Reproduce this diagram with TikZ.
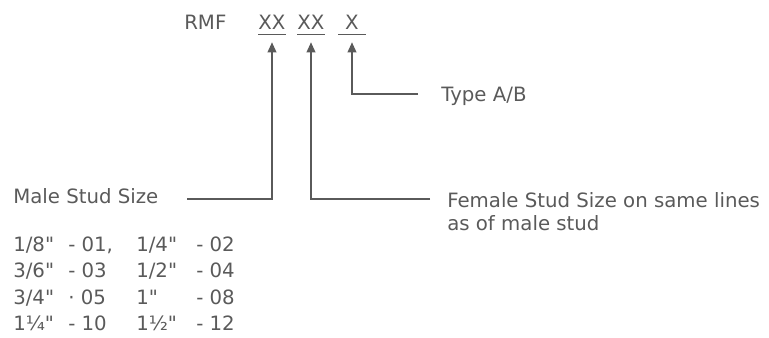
\documentclass[tikz,border=0pt]{standalone}
\usepackage{fontspec}
\setmainfont{DejaVu Sans}[Ligatures=TeXOff]
\usetikzlibrary{arrows.meta}
\definecolor{ink}{HTML}{5A5A5A}
\begin{document}
\begin{tikzpicture}[x=0.75pt,y=-0.75pt,
  lbl/.style={font=\fontsize{14.8}{17.25}\selectfont, text=ink, inner sep=0pt, anchor=base west},
  fld/.style={font=\fontsize{14.8}{17.25}\selectfont, text=ink, inner sep=0pt, anchor=base, minimum width=20.25pt},
  lead/.style={draw=ink, line width=1.1pt, -{Triangle[length=7.5pt,width=6.5pt]}},
  uline/.style={draw=ink, line width=1pt}]
\useasboundingbox (0,0) rectangle (769,338);

% code line
\node[lbl] (rmf) at (184,30) {RMF};
\node[fld] (f1) at (272,30) {XX};
\node[fld] (f2) at (311,30) {XX};
\node[fld] (f3) at (352,30) {X};
\foreach \f in {f1,f2,f3}
  \draw[uline] ([yshift=-3pt]\f.south west) -- ([yshift=-3pt]\f.south east);

\coordinate (t1) at ([yshift=-9pt]f1.south);
\coordinate (t2) at ([yshift=-9pt]f2.south);
\coordinate (t3) at ([yshift=-9pt]f3.south);

% labels
\node[lbl] (type) at (441,102) {Type A/B};
\node[lbl] (male) at (13,204) {Male Stud Size};
\node[lbl, anchor=north west, align=left] (female) at (447,192)
  {Female Stud Size on same lines\\as of male stud};

% leaders
\coordinate (m1) at (187,199);
\coordinate (m2) at (430,199);
\coordinate (m3) at (418,94);
\draw[lead] (m1) -| (t1);
\draw[lead] (m2) -| (t2);
\draw[lead] (m3) -| (t3);

% size table
\node[lbl] (s11) at (13,252) {1/8"};   \node[lbl] (c11) at (68,252) {- 01,};
\node[lbl] (s12) at (136,252) {1/4"};  \node[lbl] (c12) at (196,252) {- 02};
\node[lbl] (s21) at (13,278) {3/6"};   \node[lbl] (c21) at (68,278) {- 03};
\node[lbl] (s22) at (136,278) {1/2"};  \node[lbl] (c22) at (196,278) {- 04};
\node[lbl] (s31) at (13,305) {3/4"};   \node[lbl] (c31) at (68,305) {· 05};
\node[lbl] (s32) at (136,305) {1"};    \node[lbl] (c32) at (196,305) {- 08};
\node[lbl] (s41) at (13,331) {1¼"};    \node[lbl] (c41) at (68,331) {- 10};
\node[lbl] (s42) at (136,331) {1½"};   \node[lbl] (c42) at (196,331) {- 12};
\end{tikzpicture}
\end{document}
